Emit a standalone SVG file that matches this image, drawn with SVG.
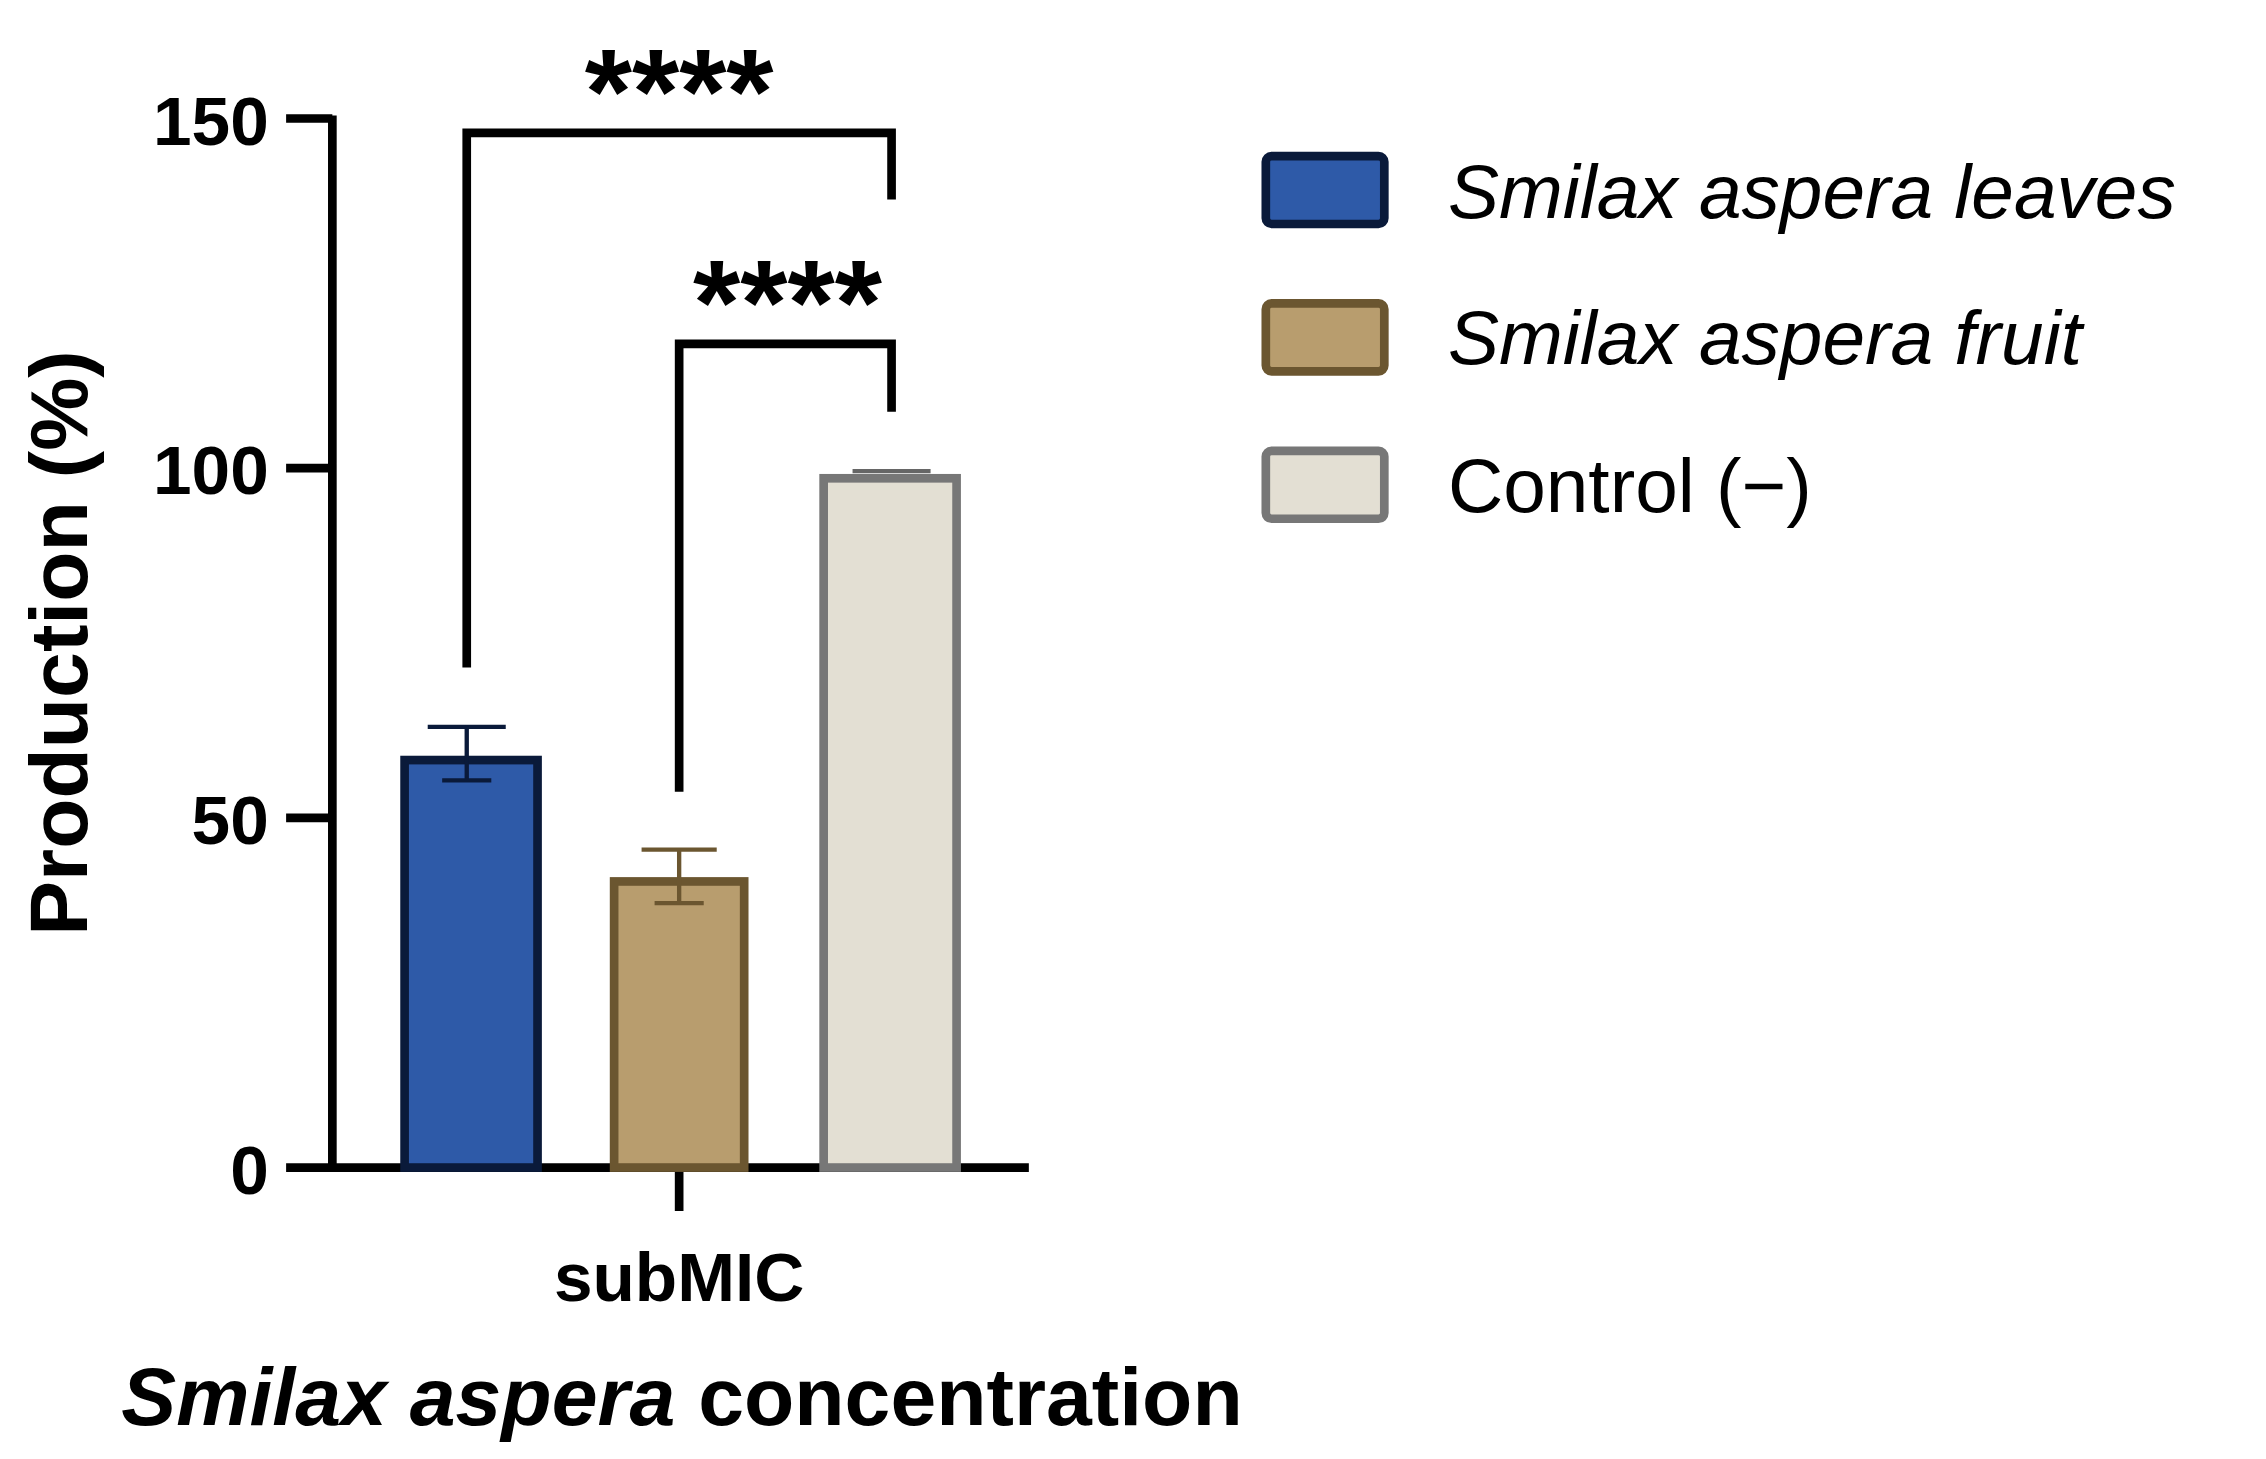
<svg xmlns="http://www.w3.org/2000/svg" width="2266" height="1459" viewBox="0 0 2266 1459">
<style>
.ax{stroke:#000;stroke-width:6;fill:none}
.t{font-family:"Liberation Sans",Arial,sans-serif;font-weight:bold;fill:#000}
.l{font-family:"Liberation Sans",Arial,sans-serif;fill:#000;font-size:53px}
</style>
<rect width="2266" height="1459" fill="#fff"/>
<g transform="scale(1.445)">
<g id="axes">
<path class="ax" d="M230,80V808M198,82H230M198,324H230M198,566H230M198,808H712M470,808V838"/>
<text class="t" x="186" y="100" font-size="48" text-anchor="end">150</text>
<text class="t" x="186" y="342" font-size="48" text-anchor="end">100</text>
<text class="t" x="186" y="584" font-size="48" text-anchor="end">50</text>
<text class="t" x="186" y="826" font-size="48" text-anchor="end">0</text>
<text class="t" x="470" y="900" font-size="48" text-anchor="middle">subMIC</text>
<text class="t" x="472" y="986" font-size="57" text-anchor="middle"><tspan font-style="italic">Smilax aspera</tspan> concentration</text>
<text class="t" transform="translate(60,445) rotate(-90)" font-size="57" text-anchor="middle">Production (%)</text>
</g>
<g id="bar-leaves">
<rect x="280" y="526" width="92" height="282" fill="#2e5aa8" stroke="#0a1a3a" stroke-width="6"/>
<path d="M296,503H350M323,503V540M306,540H340" stroke="#0a1a3a" stroke-width="3" fill="none"/>
</g>
<g id="bar-fruit">
<rect x="425" y="610" width="90" height="198" fill="#b89d6e" stroke="#6b5630" stroke-width="6"/>
<path d="M444,588H496M470,588V625M453,625H487" stroke="#6b5630" stroke-width="3" fill="none"/>
</g>
<g id="bar-control">
<path d="M590,326H644" stroke="#666" stroke-width="3" fill="none"/>
<rect x="570" y="331" width="92" height="477" fill="#e3dfd3" stroke="#777" stroke-width="6"/>
</g>
<g id="connectors">
<path class="ax" d="M323,462V92H617V138"/>
<path class="ax" d="M470,548V238H617V285"/>
</g>
<text class="t" x="470" y="92" font-size="84" text-anchor="middle">****</text>
<text class="t" x="545" y="238" font-size="84" text-anchor="middle">****</text>
<g id="legend">
<rect x="876" y="108" width="82" height="47" rx="4" fill="#2e5aa8" stroke="#0a1a3a" stroke-width="6"/>
<rect x="876" y="210" width="82" height="47" rx="4" fill="#b89d6e" stroke="#6b5630" stroke-width="6"/>
<rect x="876" y="312" width="82" height="47" rx="4" fill="#e3dfd3" stroke="#777" stroke-width="6"/>
<text class="l" x="1002" y="151" font-style="italic">Smilax aspera leaves</text>
<text class="l" x="1002" y="252" font-style="italic">Smilax aspera fruit</text>
<text class="l" x="1002" y="354">Control (−)</text>
</g>
</g>
</svg>
